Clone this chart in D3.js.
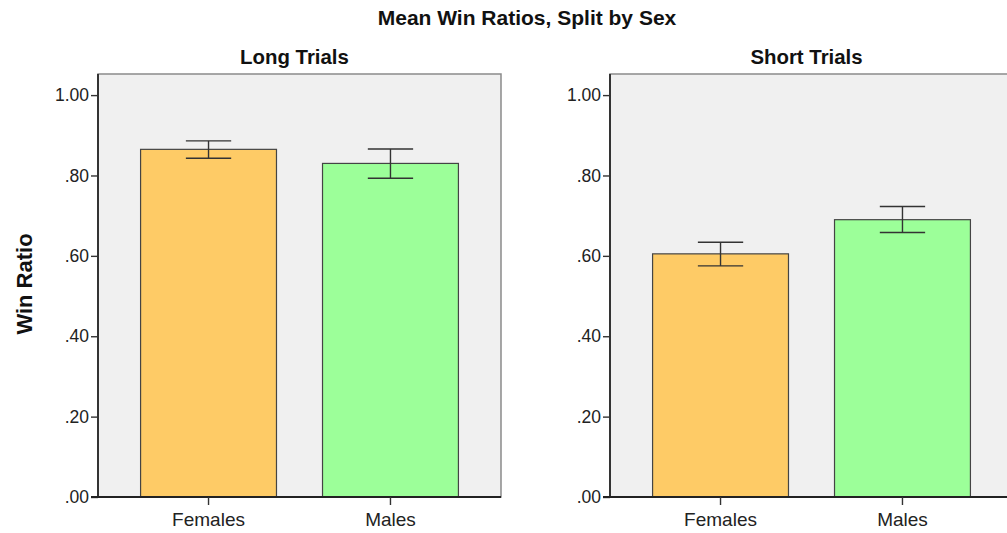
<!DOCTYPE html>
<html><head><meta charset="utf-8">
<script src="https://cdn.jsdelivr.net/npm/d3@7"></script>
<style>html,body{margin:0;padding:0;background:#fff;}svg{display:block;font-family:"Liberation Sans",Arial,sans-serif;}</style>
</head><body><svg id="c" width="1007" height="533"></svg>
<script>
const chartTitle = "Mean Win Ratios, Split by Sex";
const yLabel = "Win Ratio";
const panels = ["Long Trials", "Short Trials"];
const categories = ["Females", "Males"];
const colors = ["#fecb66", "#9cff99"];
const longMeans = [0.865, 0.830];
const longLower = [0.843, 0.793];
const longUpper = [0.886, 0.866];
const shortMeans = [0.605, 0.690];
const shortLower = [0.575, 0.658];
const shortUpper = [0.634, 0.723];
const yTicks = [0, 0.2, 0.4, 0.6, 0.8, 1.0];
const yTickLabels = [".00", ".20", ".40", ".60", ".80", "1.00"];

const panelData = [
  {title: panels[0], means: longMeans, lo: longLower, hi: longUpper},
  {title: panels[1], means: shortMeans, lo: shortLower, hi: shortUpper}
];

const svg = d3.select("#c");
const plotTop = 74, plotBottom = 497, pw = 403;
const lefts = [98, 610];
const y = d3.scaleLinear().domain([0, 1.0525]).range([plotBottom, plotTop]);

svg.append("text").attr("x", 527).attr("y", 25).attr("text-anchor", "middle")
  .attr("font-size", 21).attr("font-weight", "bold").attr("fill", "#111").text(chartTitle);

svg.append("text").attr("transform", "translate(32,284) rotate(-90)").attr("text-anchor", "middle")
  .attr("font-size", 22).attr("font-weight", "bold").attr("fill", "#111").text(yLabel);

panelData.forEach((p, i) => {
  const x0 = lefts[i];
  const g = svg.append("g").attr("transform", `translate(${x0},0)`);
  const x = d3.scaleBand().domain(categories).range([0, pw]).paddingInner(0.253).paddingOuter(0.234);
  g.append("rect").attr("x", 0).attr("y", plotTop).attr("width", pw).attr("height", plotBottom - plotTop)
    .attr("fill", "#f0f0f0").attr("stroke", "#8a8a8a").attr("stroke-width", 1.5);
  g.append("text").attr("x", pw / 2 - 5).attr("y", 64).attr("text-anchor", "middle")
    .attr("font-size", 20.4).attr("font-weight", "bold").attr("fill", "#111").text(p.title);
  g.selectAll(".bar").data(categories).join("rect")
    .attr("x", d => x(d)).attr("width", x.bandwidth())
    .attr("y", (d, j) => y(p.means[j])).attr("height", (d, j) => plotBottom - y(p.means[j]))
    .attr("fill", (d, j) => colors[j]).attr("stroke", "#444").attr("stroke-width", 1.2);
  const cap = x.bandwidth() / 3;
  categories.forEach((c, j) => {
    const cx = x(c) + x.bandwidth() / 2;
    const eg = g.append("g").attr("stroke", "#333").attr("stroke-width", 1.4);
    eg.append("line").attr("x1", cx).attr("x2", cx).attr("y1", y(p.lo[j])).attr("y2", y(p.hi[j]));
    eg.append("line").attr("x1", cx - cap / 2).attr("x2", cx + cap / 2).attr("y1", y(p.lo[j])).attr("y2", y(p.lo[j]));
    eg.append("line").attr("x1", cx - cap / 2).attr("x2", cx + cap / 2).attr("y1", y(p.hi[j])).attr("y2", y(p.hi[j]));
  });
  const ya = g.append("g").call(d3.axisLeft(y).tickValues(yTicks).tickFormat((d, k) => yTickLabels[k]).tickSize(7).tickSizeOuter(0).tickPadding(2));
  ya.select(".domain").attr("d", `M0,${plotTop}V${plotBottom}`).attr("stroke", "#333").attr("stroke-width", 2);
  ya.selectAll(".tick line").attr("stroke", "#333").attr("stroke-width", 1.4);
  ya.selectAll("text").attr("font-size", 17.5).attr("fill", "#222").attr("font-family", "Liberation Sans, Arial, sans-serif");
  const xa = g.append("g").attr("transform", `translate(0,${plotBottom})`)
    .call(d3.axisBottom(x).tickSize(8).tickSizeOuter(0).tickPadding(7.5));
  xa.select(".domain").attr("d", `M-7,0H${pw}`).attr("stroke", "#222").attr("stroke-width", 2);
  xa.selectAll(".tick line").attr("stroke", "#333").attr("stroke-width", 1.4);
  xa.selectAll("text").attr("font-size", 19).attr("fill", "#222").attr("font-family", "Liberation Sans, Arial, sans-serif");
});
</script></body></html>
